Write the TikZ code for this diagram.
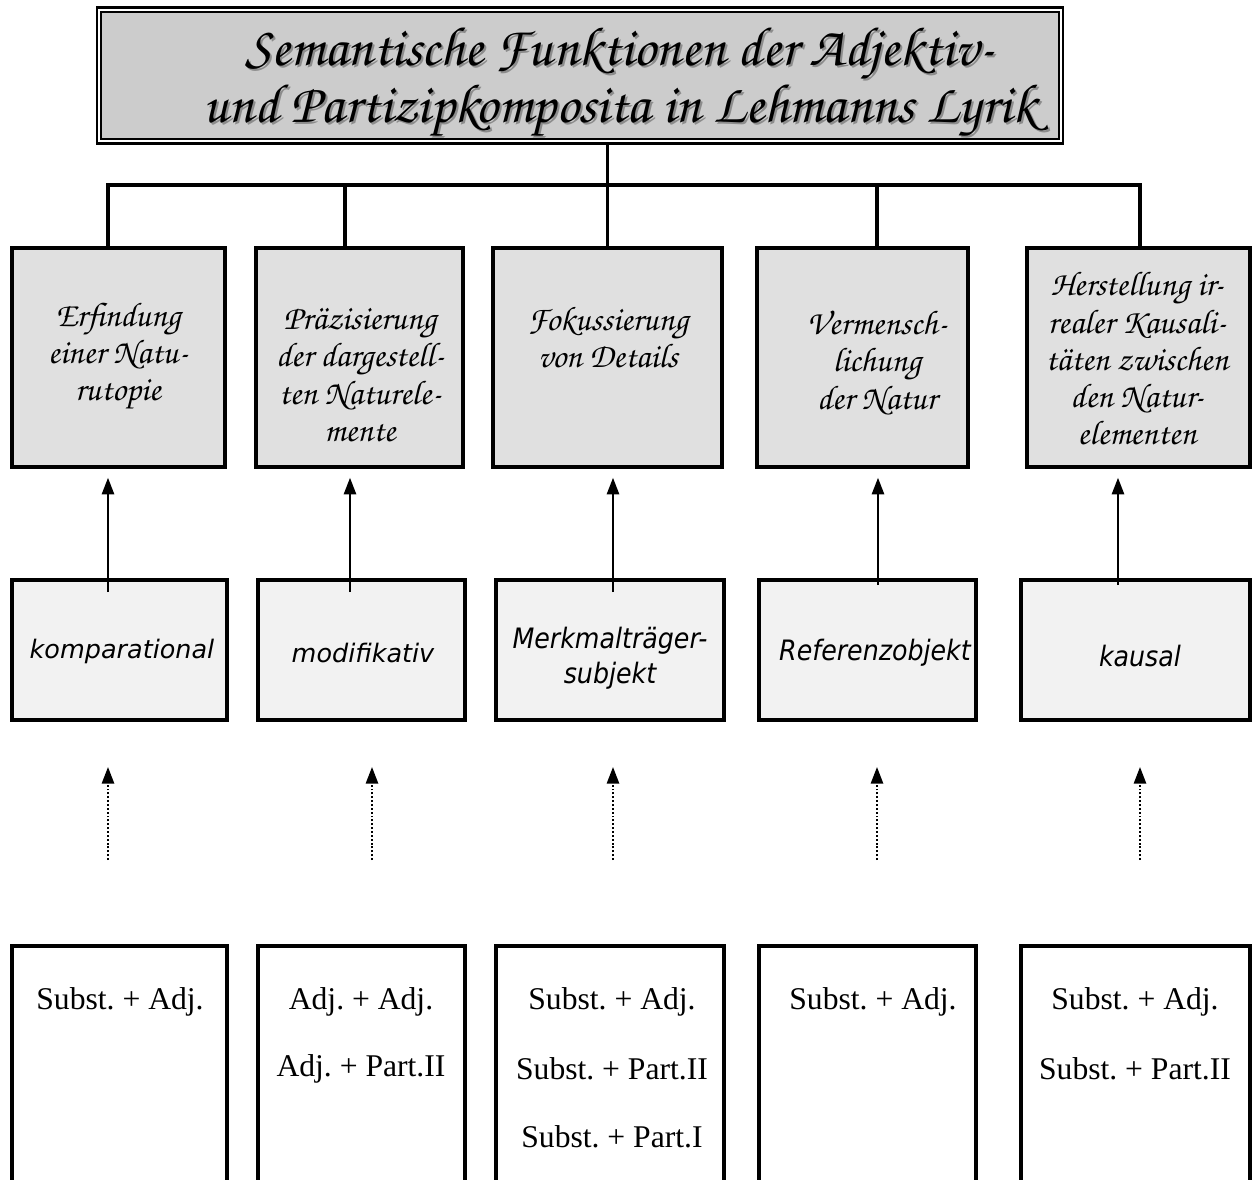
\documentclass[tikz,border=0pt]{standalone}
\usepackage{fontspec}
\setmainfont{Liberation Serif}
\newfontfamily\chor{TeX Gyre Chorus}
\newfontfamily\verd{DejaVu Sans}
\newfontfamily\verdc{DejaVu Sans Condensed}
\usetikzlibrary{arrows.meta,calc}
\definecolor{titlegray}{HTML}{CCCCCC}
\definecolor{topgray}{HTML}{E0E0E0}
\definecolor{midgray}{HTML}{F2F2F2}
\frenchspacing
\tikzset{
  frame/.style={draw, line width=2.3pt, inner sep=0pt},
  topbox/.style={frame, fill=topgray, minimum height=4.38cm},
  midbox/.style={frame, fill=midgray, minimum height=2.8cm},
  botbox/.style={frame, fill=white, minimum height=6cm},
  ttext/.style={font=\chor\fontsize{19.5}{21.2}\selectfont, align=center, inner sep=0pt},
  mtext/.style={font=\verdc\itshape\fontsize{16}{20}\selectfont, align=center, inner sep=0pt},
  mtextw/.style={font=\verd\itshape\fontsize{14.5}{20}\selectfont, align=center, inner sep=0pt},
  btext/.style={font=\fontsize{18}{20}\selectfont, inner sep=0pt},
  conn/.style={line width=2.1pt},
  arr/.style={line width=1.2pt, -{Triangle[width=7pt,length=9.5pt]}, shorten >=5pt},
  dotarr/.style={line width=1.1pt, dash pattern=on 1.1pt off 1.1pt, -{Triangle[width=7pt,length=9.5pt]}}
}
\begin{document}
\begin{tikzpicture}[x=0.02cm,y=-0.02cm]
\useasboundingbox (0,0) rectangle (1252,1180);
\clip (0,0) rectangle (1252,1180);

% title
\node[draw, line width=2.3pt, fill=titlegray, minimum width=19.3cm, minimum height=2.68cm, inner sep=0pt] (title) at (580,75.5) {};
\draw[white, line width=1pt] ($(title.north west)+(3.5,3.5)$) rectangle ($(title.south east)+(-3.5,-3.5)$);
\draw[line width=0.9pt] ($(title.north west)+(5.5,5.5)$) rectangle ($(title.south east)+(-5.5,-5.5)$);
\node[font=\chor\fontsize{31.5}{32.5}\selectfont, align=center, text=black!45] (titleshadow) at (622,84) {Semantische Funktionen der Adjektiv-\\und Partizipkomposita in Lehmanns Lyrik};
\node[font=\chor\fontsize{31.5}{32.5}\selectfont, align=center] (titletext) at (620,82) {Semantische Funktionen der Adjektiv-\\und Partizipkomposita in Lehmanns Lyrik};

% top boxes
\node[topbox, minimum width=4.26cm] (t1) at (118.5,357.5) {};
\node[topbox, minimum width=4.14cm] (t2) at (359.5,357.5) {};
\node[topbox, minimum width=4.58cm] (t3) at (607.5,357.5) {};
\node[topbox, minimum width=4.22cm] (t4) at (862.5,357.5) {};
\node[topbox, minimum width=4.46cm] (t5) at (1138.5,357.5) {};

\node[ttext] (tx1) at (118,356) {Erfindung\\einer Natu-\\rutopie};
\node[ttext] (tx2) at (360,375) {Präzisierung\\der dargestell-\\ten Naturele-\\mente};
\node[ttext] (tx3) at (608,338) {Fokussierung\\von Details};
\node[ttext] (tx4) at (877,363) {Vermensch-\\lichung\\der Natur};
\node[ttext] (tx5) at (1137,359) {Herstellung ir-\\realer Kausali-\\täten zwischen\\den Natur-\\elementen};

% tree connectors
\coordinate (hub) at (607.5,185);
\coordinate (d1) at (108,185);
\coordinate (d2) at (345,185);
\coordinate (d4) at (877,185);
\coordinate (d5) at (1140,185);
\draw[conn] (title.south -| hub) -- (hub);
\draw[conn, line cap=rect] (d1) -- (d5);
\draw[conn] (d1) -- (d1 |- t1.north);
\draw[conn] (d2) -- (d2 |- t2.north);
\draw[conn] (hub) -- (t3.north);
\draw[conn] (d4) -- (d4 |- t4.north);
\draw[conn] (d5) -- (d5 |- t5.north);

% middle boxes
\node[midbox, minimum width=4.3cm] (m1) at (119.5,650) {};
\node[midbox, minimum width=4.14cm] (m2) at (361.5,650) {};
\node[midbox, minimum width=4.56cm] (m3) at (610,650) {};
\node[midbox, minimum width=4.34cm] (m4) at (867.5,650) {};
\node[midbox, minimum width=4.58cm] (m5) at (1135.5,650) {};

\node[mtextw] (mx1) at (122,651) {komparational};
\node[mtextw] (mx2) at (363,653) {modifikativ};
\node[mtext] (mx3) at (610,658) {Merkmalträger-\\subjekt};
\node[mtext] (mx4) at (875,653) {Referenzobjekt};
\node[mtext] (mx5) at (1140,656) {kausal};

% solid arrows
\coordinate (s1) at (108,592);
\coordinate (s2) at (350,592);
\coordinate (s3) at (613,592);
\coordinate (s4) at (878,585);
\coordinate (s5) at (1118,585);
\draw[arr] (s1) -- (s1 |- t1.south);
\draw[arr] (s2) -- (s2 |- t2.south);
\draw[arr] (s3) -- (s3 |- t3.south);
\draw[arr] (s4) -- (s4 |- t4.south);
\draw[arr] (s5) -- (s5 |- t5.south);

% dotted arrows
\foreach \i/\x in {1/108,2/372,3/613,4/877,5/1140}{
  \coordinate (p\i) at (\x,860);
  \coordinate (q\i) at (\x,767);
  \draw[dotarr] (p\i) -- (q\i);
}

% bottom boxes
\node[botbox, minimum width=4.3cm] (b1) at (119.5,1096) {};
\node[botbox, minimum width=4.14cm] (b2) at (361.5,1096) {};
\node[botbox, minimum width=4.56cm] (b3) at (610,1096) {};
\node[botbox, minimum width=4.34cm] (b4) at (867.5,1096) {};
\node[botbox, minimum width=4.58cm] (b5) at (1135.5,1096) {};

\node[btext] (b1a) at (120,1002) {Subst. + Adj.};
\node[btext] (b2a) at (361,1002) {Adj. + Adj.};
\node[btext] (b2b) at (361,1069) {Adj. + Part.II};
\node[btext] (b3a) at (612,1002) {Subst. + Adj.};
\node[btext] (b3b) at (612,1069) {Subst. + Part.II};
\node[btext] (b3c) at (612,1137) {Subst. + Part.I};
\node[btext] (b4a) at (873,1002) {Subst. + Adj.};
\node[btext] (b5a) at (1135,1002) {Subst. + Adj.};
\node[btext] (b5b) at (1135,1069) {Subst. + Part.II};
\end{tikzpicture}
\end{document}
